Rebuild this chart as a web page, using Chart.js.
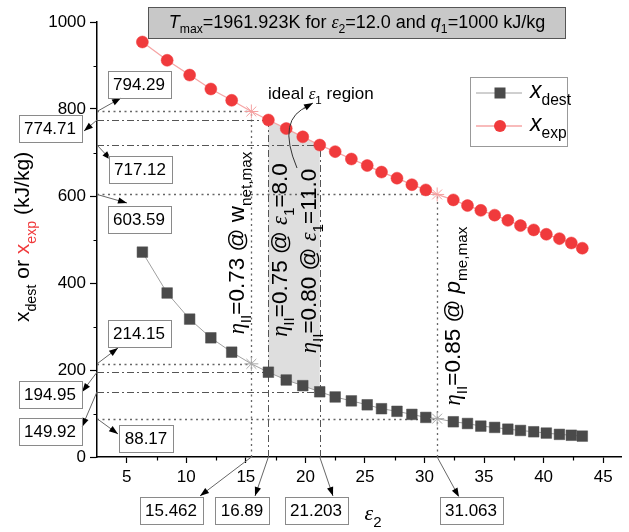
<!DOCTYPE html>
<html><head><meta charset="utf-8">
<script src="https://cdn.jsdelivr.net/npm/chart.js@4/dist/chart.umd.min.js"></script>
<style>html,body{margin:0;padding:0;background:#fff}canvas{display:block}</style>
</head><body>
<canvas id="c" width="629" height="532"></canvas>
<script>
// ---- data ----
const eps2  = [6.31, 8.39, 10.28, 12.06, 13.81, 15.462, 16.89, 18.39, 19.78, 21.203, 22.5, 23.86, 25.19, 26.39, 27.69, 28.94, 30.11, 31.063, 32.42, 33.61, 34.73, 35.89, 37.0, 38.06, 39.17, 40.23, 41.33, 42.33, 43.25];
const xDest = [471, 377, 317, 274, 241, 214.15, 194.95, 177, 164, 149.92, 138, 129, 120, 111, 105, 98, 91, 88.17, 81, 77, 71, 68, 64, 61, 58, 55, 52, 50, 48];
const xExp  = [954, 912, 878, 846, 820, 794.29, 774.71, 755, 736, 717.12, 702, 685, 670, 655, 641, 626, 614, 603.59, 591, 578, 567, 556, 544, 532, 522, 512, 502, 492, 480];
// special (optimum) points
const refEps2 = [15.462, 16.89, 21.203, 31.063];
const refDest = [214.15, 194.95, 149.92, 88.17];
const refExp  = [794.29, 774.71, 717.12, 603.59];
const starEps = [15.462, 31.063];
const xTicks = [5, 10, 15, 20, 25, 30, 35, 40, 45];
const yTicks = [0, 200, 400, 600, 800, 1000];

const FONT = "'Liberation Sans', Arial, sans-serif";
const isStar = i => starEps.includes(eps2[i]);

function segFont(s, size) {
  const sz = s.s ? size * 0.68 : size;
  const fam = s.f === 'serif' ? "'Liberation Serif', 'DejaVu Serif', serif" : FONT;
  return (s.i ? 'italic ' : '') + sz.toFixed(1) + 'px ' + fam;
}
function richWidth(ctx, segs, size) {
  let w = 0;
  segs.forEach(s => { ctx.font = segFont(s, size); w += ctx.measureText(s.t).width; });
  return w;
}
function drawRich(ctx, segs, x, y, size, align, color) {
  const w = richWidth(ctx, segs, size);
  let cx = align === 'center' ? x - w / 2 : align === 'right' ? x - w : x;
  ctx.textBaseline = 'alphabetic';
  ctx.textAlign = 'left';
  segs.forEach(s => {
    ctx.font = segFont(s, size);
    ctx.fillStyle = s.c || color || '#000';
    ctx.fillText(s.t, cx, y + (s.s ? size * 0.3 : 0));
    cx += ctx.measureText(s.t).width;
  });
}
function drawRotRich(ctx, segs, cx, cy, size, color) {
  ctx.save();
  ctx.translate(cx, cy);
  ctx.rotate(-Math.PI / 2);
  drawRich(ctx, segs, 0, size * 0.35, size, 'center', color);
  ctx.restore();
}
function arrow(ctx, x0, y0, x1, y1) {
  ctx.save();
  ctx.strokeStyle = '#666'; ctx.lineWidth = 1; ctx.setLineDash([]);
  ctx.beginPath(); ctx.moveTo(x0, y0); ctx.lineTo(x1, y1); ctx.stroke();
  const a = Math.atan2(y1 - y0, x1 - x0), L = 9, W = 3.2;
  ctx.fillStyle = '#000';
  ctx.beginPath();
  ctx.moveTo(x1, y1);
  ctx.lineTo(x1 - L * Math.cos(a) + W * Math.sin(a), y1 - L * Math.sin(a) - W * Math.cos(a));
  ctx.lineTo(x1 - L * Math.cos(a) - W * Math.sin(a), y1 - L * Math.sin(a) + W * Math.cos(a));
  ctx.closePath(); ctx.fill();
  ctx.restore();
}
function valueBox(ctx, text, cx, cy) {
  ctx.font = '17px ' + FONT;
  const w = ctx.measureText(text).width + 11, h = 27;
  ctx.fillStyle = '#fff';
  ctx.fillRect(cx - w / 2, cy - h / 2, w, h);
  ctx.strokeStyle = '#8a8a8a'; ctx.lineWidth = 1;
  ctx.strokeRect(Math.round(cx - w / 2) + 0.5, Math.round(cy - h / 2) + 0.5, Math.round(w), h);
  ctx.fillStyle = '#000'; ctx.textAlign = 'center'; ctx.textBaseline = 'middle';
  ctx.fillText(text, cx, cy + 1);
}

const annot = {
  id: 'annot',
  beforeDatasetsDraw(chart) {
    const { ctx, scales: { x, y }, chartArea: ca } = chart;
    ctx.save();
    // shaded ideal region between the curves
    const lo = refEps2[1], hi = refEps2[2];
    const idx = eps2.map((e, i) => i).filter(i => eps2[i] >= lo && eps2[i] <= hi);
    ctx.beginPath();
    idx.forEach((i, k) => k ? ctx.lineTo(x.getPixelForValue(eps2[i]), y.getPixelForValue(xExp[i]))
                            : ctx.moveTo(x.getPixelForValue(eps2[i]), y.getPixelForValue(xExp[i])));
    idx.slice().reverse().forEach(i => ctx.lineTo(x.getPixelForValue(eps2[i]), y.getPixelForValue(xDest[i])));
    ctx.closePath();
    ctx.fillStyle = '#dedede';
    ctx.fill();
    // reference lines
    refEps2.forEach((e, k) => {
      const dashdot = (k === 1 || k === 2);
      ctx.setLineDash(dashdot ? [7, 3, 2, 3] : [2, 3.5]);
      ctx.strokeStyle = dashdot ? '#555' : '#666';
      ctx.lineWidth = dashdot ? 1 : 1.3;
      const px = Math.round(x.getPixelForValue(e)) + 0.5;
      ctx.beginPath();
      ctx.moveTo(px, ca.bottom); ctx.lineTo(px, y.getPixelForValue(refExp[k]));
      [refExp[k], refDest[k]].forEach(v => {
        const py = Math.round(y.getPixelForValue(v)) + 0.5;
        ctx.moveTo(ca.left, py); ctx.lineTo(px, py);
      });
      ctx.stroke();
    });
    ctx.restore();
  },
  afterDraw(chart) {
    const { ctx, scales: { x, y }, chartArea: ca } = chart;
    ctx.save();
    // minor ticks
    ctx.strokeStyle = '#000'; ctx.lineWidth = 1.2; ctx.setLineDash([]);
    ctx.beginPath();
    for (let v = 7.5; v < 46.5; v += 5) {
      const px = Math.round(x.getPixelForValue(v)) + 0.5;
      ctx.moveTo(px, ca.bottom); ctx.lineTo(px, ca.bottom + 3.5);
    }
    for (let v = 100; v < 1000; v += 200) {
      const py = Math.round(y.getPixelForValue(v)) + 0.5;
      ctx.moveTo(ca.left, py); ctx.lineTo(ca.left - 3.5, py);
    }
    ctx.stroke();

    // value boxes and arrows (left side: y values)
    const L = ca.left;
    const leftBoxes = [
      { v: refExp[0], bx: 139, by: 84,  hx: 121, hy: 98 },
      { v: refExp[1], bx: 50,  by: 128, hx: 84,  hy: 131 },
      { v: refExp[2], bx: 140, by: 169, hx: 111, hy: 160 },
      { v: refExp[3], bx: 139, by: 219, hx: 127, hy: 203 },
      { v: refDest[0], bx: 139, by: 333, hx: 118, hy: 348 },
      { v: refDest[1], bx: 50, by: 394, hx: 82, hy: 392 },
      { v: refDest[2], bx: 50, by: 431, hx: 82, hy: 427 },
      { v: refDest[3], bx: 146, by: 438, hx: 118, hy: 434 }
    ];
    leftBoxes.forEach(b => {
      arrow(ctx, L, y.getPixelForValue(b.v), b.hx, b.hy);
      valueBox(ctx, String(b.v), b.bx, b.by);
    });
    const bottomBoxes = [
      { v: refEps2[0], bx: 171, hx: 200, hy: 496 },
      { v: refEps2[1], bx: 242, hx: 255, hy: 496 },
      { v: refEps2[2], bx: 316, hx: 333, hy: 496 },
      { v: refEps2[3], bx: 471, hx: 459, hy: 497 }
    ];
    bottomBoxes.forEach(b => {
      arrow(ctx, x.getPixelForValue(b.v), ca.bottom, b.hx, b.hy);
      valueBox(ctx, String(b.v), b.bx, 510);
    });

    // axis titles
    drawRich(ctx, [{ t: 'ε', i: 1, f: 'serif' }, { t: '2', s: 1 }], 373, 520, 22, 'center');
    drawRotRich(ctx, [{ t: 'x' }, { t: 'dest', s: 1 }, { t: ' or ' }, { t: 'x', c: '#f03a3c' }, { t: 'exp', s: 1, c: '#f03a3c' }, { t: ' (kJ/kg)' }], 22, 237, 21);

    // rotated condition labels
    const eta = [{ t: 'η', i: 1, f: 'serif' }, { t: 'II', s: 1 }];
    const RS = 22.5;
    drawRotRich(ctx, eta.concat([{ t: '=0.73 @ ' }, { t: 'w' }, { t: 'net,max', s: 1 }]), x.getPixelForValue(refEps2[0]) - 15, 243, RS);
    drawRotRich(ctx, eta.concat([{ t: '=0.75 @ ' }, { t: 'ε', i: 1, f: 'serif' }, { t: '1', s: 1 }, { t: '=8.0' }]), x.getPixelForValue(refEps2[1]) + 11, 250, RS);
    drawRotRich(ctx, eta.concat([{ t: '=0.80 @ ' }, { t: 'ε', i: 1, f: 'serif' }, { t: '1', s: 1 }, { t: '=11.0' }]), x.getPixelForValue(refEps2[2]) - 11.5, 261, RS);
    drawRotRich(ctx, eta.concat([{ t: '=0.85 @ ' }, { t: 'p', i: 1 }, { t: 'me,max', s: 1 }]), x.getPixelForValue(refEps2[3]) + 15, 316, RS);

    // ideal region note with curved arrow
    drawRich(ctx, [{ t: 'ideal ' }, { t: 'ε', i: 1, f: 'serif' }, { t: '1', s: 1 }, { t: ' region' }], 268, 99, 17, 'left');
    ctx.strokeStyle = '#333'; ctx.lineWidth = 1; ctx.setLineDash([]);
    ctx.beginPath(); ctx.moveTo(297, 168); ctx.quadraticCurveTo(276, 118, 309, 106); ctx.stroke();
    arrow(ctx, 303, 108.5, 313, 103);

    // title box
    ctx.fillStyle = '#c8c8c8'; ctx.fillRect(148, 7, 417, 31);
    ctx.strokeStyle = '#555'; ctx.lineWidth = 1; ctx.strokeRect(148.5, 7.5, 417, 31);
    drawRich(ctx, [{ t: 'T', i: 1 }, { t: 'max', s: 1 }, { t: '=1961.923K for ' }, { t: 'ε', i: 1, f: 'serif' }, { t: '2', s: 1 },
      { t: '=12.0 and ' }, { t: 'q', i: 1 }, { t: '1', s: 1 }, { t: '=1000 kJ/kg' }], 357, 28, 18, 'center');

    // legend
    ctx.fillStyle = '#fff'; ctx.fillRect(470, 77, 97, 69);
    ctx.strokeStyle = '#999'; ctx.strokeRect(470.5, 77.5, 97, 69);
    const ds = chart.data.datasets;
    [[ds[0], 93, 'dest'], [ds[1], 126, 'exp']].forEach(([d, ly, sub], k) => {
      ctx.strokeStyle = d.borderColor; ctx.lineWidth = d.borderWidth;
      ctx.beginPath(); ctx.moveTo(476, ly); ctx.lineTo(522, ly); ctx.stroke();
      ctx.fillStyle = d.pointBackgroundColor;
      if (k === 0) { ctx.fillRect(494.5, ly - 5.5, 11, 11); }
      else { ctx.beginPath(); ctx.arc(500, ly, 6, 0, 2 * Math.PI); ctx.fill(); }
      drawRich(ctx, [{ t: 'x', i: 1 }, { t: sub, s: 1 }], 530, ly + 5, 23, 'left');
    });
    ctx.restore();
  }
};

new Chart(document.getElementById('c'), {
  type: 'line',
  data: {
    datasets: [
      {
        label: 'x_dest',
        data: eps2.map((e, i) => ({ x: e, y: xDest[i] })),
        borderColor: '#a0a0a0', borderWidth: 1,
        pointBackgroundColor: '#4a4a4a',
        pointBorderColor: c => isStar(c.dataIndex) ? '#a8a8a8' : '#4a4a4a',
        pointBorderWidth: c => isStar(c.dataIndex) ? 1 : 0.5,
        pointStyle: c => isStar(c.dataIndex) ? 'star' : 'rect',
        pointRadius: c => isStar(c.dataIndex) ? 7 : 7.5,
        tension: 0
      },
      {
        label: 'x_exp',
        data: eps2.map((e, i) => ({ x: e, y: xExp[i] })),
        borderColor: '#f6a5a5', borderWidth: 1.3,
        pointBackgroundColor: '#f03a3c',
        pointBorderColor: c => isStar(c.dataIndex) ? '#f4a0a0' : '#f03a3c',
        pointBorderWidth: c => isStar(c.dataIndex) ? 1 : 0.5,
        pointStyle: c => isStar(c.dataIndex) ? 'star' : 'circle',
        pointRadius: c => isStar(c.dataIndex) ? 7 : 6,
        tension: 0
      }
    ]
  },
  options: {
    responsive: false, animation: false, devicePixelRatio: 1,
    layout: { padding: { top: 22, right: 7, left: 0, bottom: 0 } },
    plugins: { legend: { display: false }, tooltip: { enabled: false } },
    scales: {
      x: {
        type: 'linear', min: 2.5, max: 46.5,
        afterBuildTicks: s => { s.ticks = xTicks.map(v => ({ value: v })); },
        afterFit: s => { s.height = 75; },
        grid: { drawOnChartArea: false, drawTicks: true, tickLength: 6, tickWidth: 1.2, tickColor: '#000' },
        border: { display: true, color: '#000', width: 1.5 },
        ticks: { color: '#000', font: { family: FONT, size: 17 }, padding: 4, maxRotation: 0, callback: v => String(v) }
      },
      y: {
        type: 'linear', min: 0, max: 1000,
        afterBuildTicks: s => { s.ticks = yTicks.map(v => ({ value: v })); },
        afterFit: s => { s.width = 97; },
        grid: { drawOnChartArea: false, drawTicks: true, tickLength: 7, tickWidth: 1.2, tickColor: '#000' },
        border: { display: true, color: '#000', width: 1.5 },
        ticks: { color: '#000', font: { family: FONT, size: 17 }, padding: 4, callback: v => String(v) }
      }
    }
  },
  plugins: [annot]
});
</script>
</body></html>
